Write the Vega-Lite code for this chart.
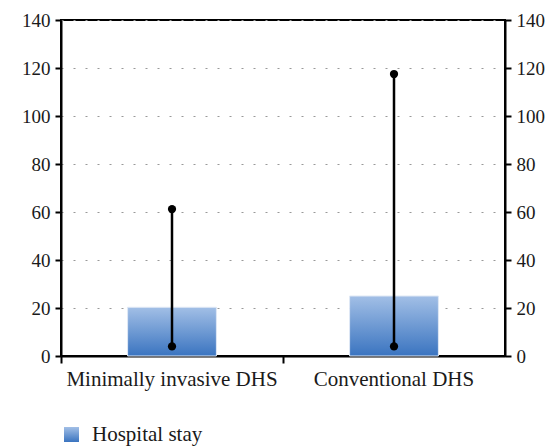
{
  "$schema": "https://vega.github.io/schema/vega-lite/v6.json",
  "width": 444,
  "height": 336,
  "autosize": "none",
  "padding": {"left": 61, "top": 20, "right": 55, "bottom": 91},
  "background": "white",
  "config": {
    "font": "Liberation Serif",
    "view": {"stroke": "black", "strokeWidth": 2},
    "axis": {
      "labelFont": "Liberation Serif",
      "labelFontSize": 19,
      "labelColor": "#1a1a1a",
      "labelLimit": 0,
      "domainColor": "black",
      "domainWidth": 2,
      "tickColor": "black",
      "tickWidth": 2,
      "tickSize": 6,
      "title": null
    },
    "legend": {
      "labelFont": "Liberation Serif",
      "labelFontSize": 21,
      "labelColor": "#1a1a1a",
      "labelLimit": 0,
      "padding": 0
    }
  },
  "data": {
    "values": [
      {"group": "Minimally invasive DHS", "stay": 20.3, "lo": 4, "hi": 61.2, "series": "Hospital stay"},
      {"group": "Conventional DHS", "stay": 25, "lo": 4, "hi": 117.5, "series": "Hospital stay"}
    ]
  },
  "encoding": {
    "x": {
      "field": "group",
      "type": "nominal",
      "sort": null,
      "scale": {"paddingInner": 0, "paddingOuter": 0},
      "axis": {
        "labelAngle": 0,
        "bandPosition": 0,
        "labelPadding": 5,
        "labelFontSize": 21,
        "grid": false,
        "tickSize": 7
      }
    }
  },
  "layer": [
    {
      "mark": {
        "type": "bar",
        "width": {"band": 0.4},
        "stroke": "#dfe8f5",
        "strokeWidth": 1,
        "fill": {
          "gradient": "linear",
          "x1": 0, "y1": 0, "x2": 0, "y2": 1,
          "stops": [
            {"offset": 0, "color": "#a2bfe6"},
            {"offset": 1, "color": "#3a74c0"}
          ]
        }
      },
      "encoding": {
        "y": {
          "field": "stay",
          "type": "quantitative",
          "scale": {"domain": [0, 140], "nice": false},
          "axis": {
            "orient": "left",
            "values": [0, 20, 40, 60, 80, 100, 120, 140],
            "grid": true,
            "gridColor": "#999999",
            "gridDash": [2, 10],
            "gridWidth": 1.2,
            "labelPadding": 5
          }
        },
        "opacity": {
          "field": "series",
          "type": "nominal",
          "scale": {"range": [1]},
          "legend": {
            "title": null,
            "orient": "none",
            "legendX": 0,
            "legendY": 404,
            "symbolType": "square",
            "symbolSize": 225,
            "symbolStrokeWidth": 0,
            "labelOffset": 10,
            "encode": {
              "symbols": {
                "update": {
                  "fill": {"value": {
                    "gradient": "linear",
                    "x1": 0, "y1": 0, "x2": 0, "y2": 1,
                    "stops": [
                      {"offset": 0, "color": "#a2bfe6"},
                      {"offset": 1, "color": "#3a74c0"}
                    ]
                  }},
                  "opacity": {"value": 1},
                  "strokeWidth": {"value": 0}
                }
              }
            }
          }
        }
      }
    },
    {
      "mark": {"type": "rule", "color": "black", "strokeWidth": 2.5},
      "encoding": {
        "y": {
          "field": "lo",
          "type": "quantitative",
          "axis": {
            "orient": "right",
            "values": [0, 20, 40, 60, 80, 100, 120, 140],
            "grid": false,
            "labelPadding": 5
          }
        },
        "y2": {"field": "hi"}
      }
    },
    {
      "mark": {"type": "point", "filled": true, "color": "black", "opacity": 1, "size": 68},
      "encoding": {
        "y": {"field": "lo", "type": "quantitative", "axis": null}
      }
    },
    {
      "mark": {"type": "point", "filled": true, "color": "black", "opacity": 1, "size": 68},
      "encoding": {
        "y": {"field": "hi", "type": "quantitative", "axis": null}
      }
    }
  ],
  "resolve": {"axis": {"y": "independent"}}
}
